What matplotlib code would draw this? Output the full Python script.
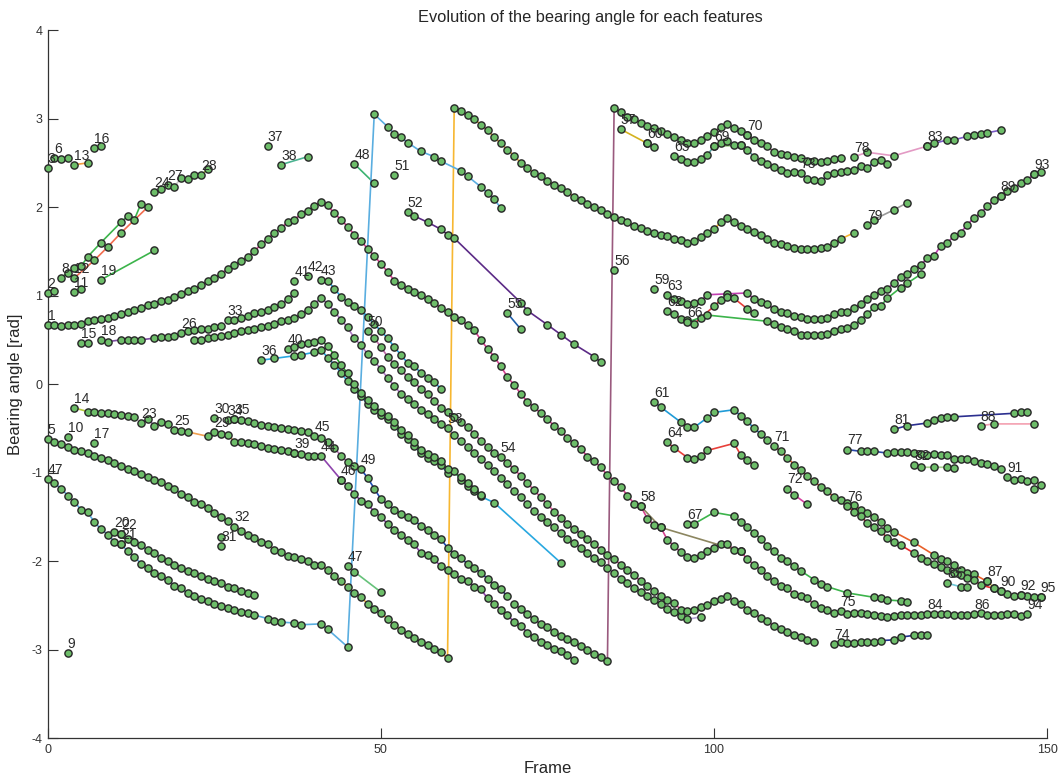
import numpy as np
import matplotlib.pyplot as plt

plt.rcParams['font.family'] = ['Liberation Sans', 'DejaVu Sans']
plt.rcParams['axes.unicode_minus'] = False

N = None

# --- feature tracks: (start frame, bearing angle per frame; None = frame missing) ---
ang_3 = [2.44]
ang_6 = [2.56, 2.54, 2.56]
ang_13 = [2.48, N, 2.50]
ang_16 = [2.67, 2.69]
ang_2 = [1.03, 1.05]
ang_8 = [1.20, 1.26, 1.31, 1.33, 1.44, N, 1.60, N, N, 1.83, 1.90, 1.86, 2.04]
ang_12 = [1.20, N, N, 1.40, N, 1.55, N, 1.71, N, N, N, 2.00]
ang_11 = [1.04, 1.07]
ang_19 = [1.18, N, N, N, N, N, N, N, 1.51]
ang_24 = [2.17, 2.20]
ang_27 = [2.25, 2.23, 2.33, 2.32, 2.36]
ang_28 = [2.36, 2.43]
ang_37 = [2.69]
ang_38 = [2.48, N, N, N, 2.57]
ang_48 = [2.49, N, N, 2.27]
ang_51 = [2.36]

ang_1 = [0.67, 0.67, 0.66, 0.67, 0.67, 0.68, 0.71, 0.72, 0.74, 0.75, 0.77, 0.79, 0.81, 0.84, 0.86, 0.89,
         0.91, 0.94, 0.95, 0.98, 1.02, 1.05, 1.08, 1.12, 1.16, 1.20, 1.25, 1.30, 1.35, 1.39, 1.44, 1.50,
         1.58, 1.64, 1.71, 1.76, 1.83, 1.86, 1.92, 1.96, 2.01, 2.06, 2.02, 1.93, 1.86, 1.78, 1.69, 1.62,
         1.53, 1.45, 1.36, 1.27, 1.17, 1.12, 1.08, 1.04, 1.01, 0.96, 0.92, 0.86, 0.81, 0.76, 0.72, 0.67,
         0.61, 0.50, 0.40, 0.31, 0.20, 0.08, -0.01, -0.11, -0.20, -0.26, -0.33, -0.40, -0.47,
         -0.53, -0.61, -0.67, -0.73, -0.82, -0.87, -0.94, -1.03, -1.09, -1.16, -1.26, -1.35, -1.38, -1.52,
         -1.59, -1.62, -1.76, -1.83, -1.90, -1.95, -1.96, -1.93, -1.89, -1.85, -1.81, -1.81, -1.87, -1.89,
         -1.98, -2.04, -2.10, -2.17, -2.23, -2.28, -2.31, -2.37, -2.40, -2.42, -2.49, -2.53, -2.55, -2.59]
ang_58 = [-1.38, N, N, -1.62] + [N] * 11 + [-1.89]
ang_75 = [-2.57, -2.60, -2.59, -2.59, -2.60, -2.61, -2.62, -2.63, -2.62, -2.61, -2.61, -2.61, -2.61]
ang_84 = [-2.60, -2.60, -2.60, -2.60, -2.61, -2.61, -2.61]
ang_86 = [-2.60, -2.59, -2.61, -2.61, -2.61, -2.60, -2.60, -2.62]
ang_94 = [-2.60]

ang_5 = [-0.62, -0.66, -0.68, -0.71, -0.74, -0.76, -0.78, -0.81, -0.83, -0.86, -0.89, -0.93, -0.96, -0.98,
         -1.02, -1.05, -1.08, -1.11, -1.15, -1.18, -1.24, -1.28, -1.33, -1.36, -1.40, -1.46, -1.50, -1.55]
ang_32 = [-1.61, -1.66, -1.70, -1.74, -1.78, -1.81, -1.87, -1.90, -1.94, -1.95, -1.98, -2.00, -2.04, -2.05,
          -2.10, -2.17, -2.23, -2.29, -2.36, -2.41,
          -2.48, -2.54, -2.59, -2.65, -2.72, -2.78, -2.83, -2.87, -2.91, -2.95, -2.99, -3.03, -3.10,
          3.12, 3.09, 3.04, 3.00, 2.93, 2.87, 2.79, 2.72, 2.65, 2.58, 2.50, 2.44, 2.39, 2.35, 2.30, 2.25,
          2.22, 2.17, 2.12, 2.08, 2.04, 2.00, 1.97, 1.92, 1.89, 1.86, 1.83, 1.79, 1.76, 1.73, 1.71, 1.69,
          1.67, 1.64, 1.63, 1.60, 1.62, 1.66,
          1.71, 1.75, 1.83, 1.88, 1.83, 1.79, 1.75, 1.72, 1.68, 1.64, 1.59, 1.58, 1.56, 1.54, 1.53, 1.53,
          1.53, 1.54, 1.55, 1.59, 1.64, N, 1.71]
ang_10 = [-0.60]
ang_17 = [-0.67]
ang_9 = [-3.04]

ang_47 = [-1.07, -1.12, -1.18, -1.26, -1.33, -1.42, -1.45, -1.56, -1.64,
          -1.70, -1.78, -1.81, -1.89, -1.95, -2.03, -2.08, -2.14, -2.17, -2.21, -2.28, -2.31, -2.36, -2.40,
          -2.43, -2.45, -2.48, -2.51, -2.53, -2.55, -2.58, -2.59, -2.61,
          N, -2.65, -2.68, -2.69, N, -2.70, -2.72, N, N, -2.71, -2.77, N, N, -2.97,
          N, N, N, 3.05, N, 2.91, 2.83, 2.79, 2.73, N, 2.63, N, 2.57, 2.52, N, N, 2.41, 2.35, N, 2.23,
          2.16, 2.09, 1.99]
ang_20 = [-1.67, -1.69, -1.75, -1.79, -1.82, -1.88, -1.91, -1.96, -2.00, -2.04, -2.08, -2.11, -2.14, -2.17,
          -2.20, -2.23, -2.25, -2.29, -2.31, -2.34, -2.36, -2.38]
ang_22 = [-1.69]
ang_21 = [-1.81]
ang_31 = [-1.83]
ang_31b = [-1.73]

ang_15 = [0.46, 0.46]
ang_18 = [0.50, 0.48, N, 0.50, 0.50, 0.50, 0.50, N, 0.52, 0.53, 0.53, 0.54]
ang_26 = [0.58, 0.60, 0.61, 0.62, 0.62, 0.65, 0.66]
ang_33 = [0.72, 0.73, 0.75, 0.77, 0.80, 0.82, 0.84, 0.87, 0.90, 0.96, 1.03]
ang_41 = [1.16]
ang_low = [0.50, 0.50, 0.52, 0.53, 0.54, 0.56, 0.58, 0.60, 0.61, 0.62, 0.65, 0.66, 0.68, 0.71, 0.73, 0.75,
           0.79, 0.84, 0.91, 0.97,
           0.91, 0.82, 0.73, 0.64, 0.52, 0.44, 0.34, 0.26, 0.17, 0.07, -0.02, -0.11, -0.17, -0.23, -0.29,
           -0.34, -0.40, -0.45]
ang_53 = [-0.50, -0.58, -0.64, -0.71, -0.78, -0.85, -0.91, -0.98, -1.06, -1.13, -1.21, -1.28, -1.36, -1.43,
          -1.50, -1.56, -1.62, -1.68,
          -1.75, -1.80, -1.85, -1.91, -1.96, -2.01, -2.08, -2.13, -2.20, -2.25, -2.30, -2.35, -2.40, -2.44,
          -2.48, -2.54, -2.58, -2.62, -2.66, N, -2.63]
ang_50 = [0.60, 0.52, 0.42, 0.31, 0.23, 0.16, 0.08, 0.02, -0.05, -0.11, -0.19, -0.27, -0.32, -0.37, -0.43,
          -0.49, -0.56, -0.64, -0.71, -0.78]
ang_54 = [-0.82, -0.89, -0.96, -1.04, -1.12, -1.20, -1.28, -1.36, -1.44, -1.51,
          -1.58, -1.64, -1.69, -1.75, -1.81, -1.87, -1.93, -1.98, -2.04, -2.10, -2.16, -2.23, -2.28, -2.34,
          -2.39, -2.44, -2.47, -2.55, -2.56, -2.55, -2.52, -2.50, -2.45, -2.43, -2.40, -2.45, -2.49,
          -2.55, -2.59, -2.64, -2.68, -2.73, -2.77, -2.80, -2.84, -2.86, -2.89, -2.91]
ang_42 = [1.22]
ang_43 = [1.18, 1.17, 1.08, 0.99, 0.93, 0.88, 0.84, 0.76, 0.68, 0.60, 0.52, 0.42, 0.33, 0.24, 0.20, 0.13,
          0.07, 0.02, -0.05]
ang_40 = [0.40, 0.42, 0.45, 0.47, 0.48, 0.50, 0.43, 0.33, 0.22, 0.12, 0.00, -0.10, -0.18, -0.25, -0.31,
          -0.36, -0.43, -0.52, -0.58, -0.66, -0.74, -0.79, -0.82, -0.87, -0.96, N, -1.05, -1.12, -1.18, -1.25]
ang_36 = [0.27, N, 0.29, N, N, 0.32, 0.33, N, 0.36, 0.39, 0.30, 0.22, 0.13, 0.03, -0.06, -0.14, -0.22,
          -0.29, -0.35, -0.40, -0.47, -0.56, -0.62, -0.70, -0.78, -0.83, -0.87, -0.92, -1.00, -0.98, -1.08,
          -1.15, -1.21, -1.27, N, -1.34] + [N] * 9 + [-2.02]

ang_14 = [-0.27, N, -0.31, -0.32, -0.33, -0.33, -0.34, -0.35, -0.36, -0.37]
ang_23 = [-0.44, -0.39, -0.47, -0.43, -0.45]
ang_25 = [-0.52, -0.53, -0.54, N, N, -0.59]
ang_29 = [-0.54, -0.56, -0.57, -0.65, -0.66, -0.67, -0.68, -0.70, -0.72, -0.73, -0.75, -0.76, -0.78, -0.79,
          -0.81, -0.81]
ang_30 = [-0.38]
ang_34 = [-0.41, -0.40, -0.41, -0.42, -0.44, -0.46, -0.47, -0.48, -0.50, -0.51, -0.52, -0.53, -0.54]
ang_35 = [-0.40]
ang_39 = [-0.78]
ang_45 = [-0.59, -0.61, -0.65, -0.72, -0.81, -0.88, -0.93]
ang_44 = [-0.81, N, N,
          -1.08, -1.15, -1.24, -1.32, -1.36, -1.44, -1.50, -1.58, -1.65, -1.70, -1.76, -1.81, -1.91, -1.93,
          -1.98, -2.06, -2.10, -2.15, -2.20, -2.23, -2.29, -2.32, -2.42, -2.48, -2.55, -2.61, -2.69, -2.73,
          -2.81, -2.86, -2.91, -2.95, -2.99, -3.02, -3.06, -3.12]
ang_46 = [-1.08]
ang_49 = [-0.96, -1.06, -1.18, -1.30, -1.36, -1.42, -1.47, -1.50, -1.54, -1.60, -1.65, -1.70, -1.75, -1.85,
          -1.92, -1.97, -2.03, -2.08, -2.13, -2.20, -2.27, -2.32, -2.40]
ang_wrap = [-2.49, -2.54, -2.60, -2.66, -2.71, -2.75, -2.80, -2.85, -2.88, -2.92, -2.96, -3.01, -3.05, -3.09,
            -3.13,
            3.12, 3.07, 3.02, 3.00, 2.95, 2.92, 2.90, 2.86, 2.83, 2.79, 2.76, 2.72, 2.72, 2.76,
            2.80, 2.85, 2.91, 2.94, 2.89, 2.86, 2.81, 2.76, 2.72, 2.69, 2.62, 2.60, 2.59, 2.57, 2.55, 2.52,
            2.52, 2.51, 2.52, 2.54, 2.56]
ang_47b = [-2.06, -2.12, N, N, N, -2.35]

ang_52 = [1.94, 1.90, N, 1.83, N, 1.75, 1.69, 1.65] + [N] * 9 + \
         [0.92, 0.83, N, N, 0.67, N, 0.56, N, 0.45, N, N, 0.31, 0.25]
ang_55 = [0.80, N, 0.62]
ang_56 = [1.29]
ang_57 = [2.88, N, N, N, 2.72, 2.68]
ang_60 = [2.72]
ang_65 = [2.58, 2.54, 2.51, 2.51, 2.54, 2.59, 2.69, 2.73, 2.75, 2.70, 2.70, 2.65, 2.57, 2.52, 2.49, 2.45,
          2.42, 2.39, 2.40]
ang_73 = [2.39, 2.32, 2.31, 2.29, 2.36, 2.39, 2.40, 2.41, 2.42, 2.46, 2.44, 2.51, 2.53, 2.49]
ang_69 = [2.69, N, N, N, 2.70]
ang_70 = [2.81]
ang_78 = [2.57, N, 2.62, N, N, N, 2.58, N, N, N, N, 2.69]
ang_83 = [2.69, 2.72, N, 2.76, 2.76, N, 2.80, 2.82, 2.83, 2.84, N, 2.87]
ang_79 = [1.80, 1.86, N, N, 1.97, N, 2.05]

ang_59 = [1.07]
ang_63 = [1.01, 0.96, 0.94, 0.91, 0.92, 0.94, 1.01, N, N, 1.02, N, N,
          1.03, 0.96, 0.93, 0.90, 0.85, 0.82, 0.80, 0.77, 0.76, 0.74, 0.74, 0.74, 0.75, 0.79, 0.81, 0.82,
          0.86, 0.91, 0.96, 1.01, 1.05, 1.08, 1.14, 1.21, 1.25, 1.30,
          1.35, 1.42, 1.45, 1.56, 1.60, 1.67, 1.71, 1.80, 1.88, 1.93, 2.01, 2.08, 2.13, 2.18, 2.22, 2.27,
          2.31, 2.37, 2.40]
ang_89 = [2.13]
ang_93 = [2.37]
ang_62 = [0.83, 0.79, 0.74, 0.73, 0.68, 0.75, N, 0.88, 0.95, 0.99, 0.97, N, 0.85, 0.80]
ang_66 = [0.70, N, N, 0.78] + [N] * 8 + \
         [0.71, 0.68, 0.65, 0.62, 0.60, 0.56, 0.55, 0.56, 0.55, 0.57, 0.60, 0.62, 0.63, 0.67, 0.73, 0.79,
          0.87, 0.88, 0.97, N, 1.09, 1.14, N, 1.24]

ang_61 = [-0.20, -0.26, N, N, -0.43, -0.49, -0.49, N, -0.38, -0.32, N, N, -0.29, -0.36, -0.42, -0.50,
          -0.56, -0.63]
ang_71 = [-0.70, -0.76, -0.83, -0.91, -0.97, -1.04, -1.10, -1.16, -1.21, -1.28, -1.31, -1.34, -1.37, -1.42,
          -1.46, -1.50, -1.56, -1.63, -1.67, N, N, -1.79, N, N, -1.93, -1.98, -2.00, -2.05, -2.10, -2.13,
          -2.15, N, -2.23]
ang_76 = [-1.38, -1.44, -1.49, -1.57, -1.61, -1.66, -1.74, -1.79, -1.82, N, -1.91, -1.96, -2.00, -2.03,
          -2.07, -2.10, -2.13, -2.16, -2.19, -2.21, -2.27, N, -2.31, -2.34, -2.37, -2.40, -2.38, -2.40,
          -2.41, -2.41]
ang_85 = [-2.25, N, -2.29, -2.29]
ang_87 = [-2.23, -2.30]
ang_90 = [-2.34]
ang_92 = [-2.38]
ang_95 = [-2.41]
ang_72 = [-1.18, -1.25, N, -1.36]
ang_64 = [-0.66, -0.72, N, -0.83, -0.85, -0.81, -0.75, N, N, N, -0.67, -0.80, -0.86, -0.92]
ang_67 = [-1.58, -1.58, N, N, -1.45, N, N, -1.49, -1.56, -1.62, -1.68, -1.75, -1.83, -1.89, -1.96, -2.00,
          -2.06, -2.11, N, -2.21, -2.26, -2.29, N, N, -2.36, N, N, N, -2.41, -2.42, -2.44, N, -2.45, -2.46]
ang_74 = [-2.94, -2.92, -2.93, -2.93, -2.92, -2.92, -2.91, -2.90, N, -2.89, -2.86, N, -2.84, -2.84, -2.84]
ang_77 = [-0.74, N, -0.76, -0.76, -0.76, N, -0.78, -0.77, -0.77, -0.77, -0.78, -0.79, -0.80, -0.79, -0.80,
          -0.80, -0.85, -0.85, -0.85, -0.87, -0.89, -0.90, -0.93, -0.96]
ang_91 = [-1.05, -1.08, -1.07, -1.09, -1.08, -1.14]
ang_91b = [-1.18]
ang_82 = [-0.92, -0.94, N, -0.94, N, -0.94, -0.95]
ang_81 = [-0.51, N, -0.47, N, N, -0.44, -0.41, -0.38, -0.37, -0.37] + [N] * 8 + [-0.33, -0.32, -0.31]
ang_88 = [-0.47, N, -0.45, N, N, N, N, N, -0.45]

# (label, first frame, angles, line colour)
tracks = [
    ("3", 0, ang_3, "#7f7f7f"), ("6", 1, ang_6, "#8fbc8f"), ("13", 4, ang_13, "#f39c3d"),
    ("16", 7, ang_16, "#4fa3d9"), ("2", 0, ang_2, "#999999"), ("8", 2, ang_8, "#3cb44b"),
    ("12", 4, ang_12, "#f26d4f"), ("11", 4, ang_11, "#a0a0a0"), ("19", 8, ang_19, "#3cb44b"),
    ("24", 16, ang_24, "#c8c8c8"), ("27", 18, ang_27, "#c8c8c8"), ("28", 23, ang_28, "#a6c83a"),
    ("37", 33, ang_37, "#888888"), ("38", 35, ang_38, "#4cb391"), ("48", 46, ang_48, "#3cb371"),
    ("51", 52, ang_51, "#888888"),
    ("1", 0, ang_1, "#d6428f"), ("58", 89, ang_58, "#8c8660"), ("75", 119, ang_75, "#77cfc8"),
    ("84", 132, ang_84, "#aaaaaa"), ("86", 139, ang_86, "#f2c12e"), ("94", 147, ang_94, "#888888"),
    ("5", 0, ang_5, "#7a9cc6"), ("32", 28, ang_32, "#f7b731"), ("10", 3, ang_10, "#888888"),
    ("17", 7, ang_17, "#888888"), ("9", 3, ang_9, "#888888"),
    ("47", 0, ang_47, "#5aaee0"), ("20", 10, ang_20, "#6cbfd8"), ("22", 11, ang_22, "#888888"),
    ("21", 11, ang_21, "#888888"), ("31", 26, ang_31, "#888888"), ("", 26, ang_31b, "#888888"),
    ("15", 5, ang_15, "#7d4fa0"), ("18", 8, ang_18, "#7d4fa0"), ("26", 20, ang_26, "#999999"),
    ("33", 27, ang_33, "#9467bd"), ("41", 37, ang_41, "#888888"),
    ("", 22, ang_low, "#b07cc6"), ("53", 60, ang_53, "#b7a7d8"), ("50", 48, ang_50, "#c06aa8"),
    ("54", 68, ang_54, "#e0559a"), ("42", 39, ang_42, "#f5a623"), ("43", 41, ang_43, "#29a8e0"),
    ("36", 32, ang_36, "#29a8e0"), ("40", 36, ang_40, "#2ca02c"),
    ("14", 4, ang_14, "#b8cc3a"), ("23", 14, ang_23, "#9b7fb0"), ("25", 19, ang_25, "#f0a050"),
    ("29", 25, ang_29, "#f0a050"), ("30", 25, ang_30, "#888888"), ("34", 27, ang_34, "#888888"),
    ("35", 28, ang_35, "#888888"), ("39", 37, ang_39, "#888888"), ("45", 40, ang_45, "#b06fb0"),
    ("44", 41, ang_44, "#8e44ad"), ("46", 44, ang_46, "#8e44ad"), ("49", 47, ang_49, "#1f4fb4"),
    ("", 70, ang_wrap, "#9a5a7e"), ("47", 45, ang_47b, "#66c27a"),
    ("52", 54, ang_52, "#5b2a86"), ("55", 69, ang_55, "#1f5fa8"), ("56", 85, ang_56, "#888888"),
    ("57", 86, ang_57, "#d4b21f"), ("60", 90, ang_60, "#888888"), ("65", 94, ang_65, "#5aa0a0"),
    ("73", 113, ang_73, "#2940a8"), ("69", 100, ang_69, "#6ab04c"), ("70", 105, ang_70, "#888888"),
    ("78", 121, ang_78, "#e39ac4"), ("83", 132, ang_83, "#7b5bc4"), ("79", 123, ang_79, "#999999"),
    ("59", 91, ang_59, "#888888"), ("63", 93, ang_63, "#c03fb0"), ("89", 143, ang_89, "#888888"),
    ("93", 148, ang_93, "#888888"), ("62", 93, ang_62, "#e8403a"), ("66", 96, ang_66, "#3cb44b"),
    ("61", 91, ang_61, "#1f9bd7"), ("71", 109, ang_71, "#e8602a"), ("76", 120, ang_76, "#e32d2d"),
    ("85", 135, ang_85, "#6fc8d6"), ("87", 141, ang_87, "#d8c84a"), ("90", 143, ang_90, "#888888"),
    ("92", 146, ang_92, "#888888"), ("95", 149, ang_95, "#888888"), ("72", 111, ang_72, "#d63fa0"),
    ("64", 93, ang_64, "#e8403a"), ("67", 96, ang_67, "#3cb44b"), ("74", 118, ang_74, "#1f2f8f"),
    ("77", 120, ang_77, "#2a49a8"), ("91", 144, ang_91, "#b5c14a"), ("", 148, ang_91b, "#888888"),
    ("82", 130, ang_82, "#a8d08d"), ("81", 127, ang_81, "#2b2f8f"), ("88", 140, ang_88, "#f4a0b0"),
]

fig = plt.figure(figsize=(10.61, 7.74), dpi=100)
ax = fig.add_axes([0.045, 0.0465, 0.942, 0.9145])

pts = []
for label, start, vals, col in tracks:
    v = np.array([np.nan if a is None else a for a in vals], dtype=float)
    fr = np.arange(start, start + len(v))
    ok = ~np.isnan(v)
    pts.append((label, fr[ok], v[ok]))
    if ok.sum() > 1:
        ax.plot(fr[ok], v[ok], '-', color=col, lw=1.2, zorder=2)

for label, fr, v in pts:
    ax.plot(fr, v, 'o', ms=5.2, mfc='#6dbd69', mec='#262626', mew=1.0, zorder=3, clip_on=False)

for label, fr, v in pts:
    if label:
        ax.annotate(label, (fr[0], v[0]), xytext=(0, 1.5), textcoords='offset points',
                    ha='left', va='bottom', fontsize=10, color='#2b2b2b', zorder=4)

ax.set_xlim(0, 150)
ax.set_ylim(-4, 4)
ax.set_xticks([0, 50, 100, 150])
ax.set_yticks(range(-4, 5))
ax.spines['top'].set_visible(False)
ax.spines['right'].set_visible(False)
for s in ('left', 'bottom'):
    ax.spines[s].set_color('#333333')
    ax.spines[s].set_linewidth(0.9)
ax.tick_params(direction='in', length=7, width=0.8, colors='#333333', labelsize=9, pad=4)
ax.set_xlabel('Frame', fontsize=12, color='#262626', labelpad=4)
ax.set_ylabel('Bearing angle [rad]', fontsize=12, color='#262626', labelpad=6)
ax.set_title('Evolution of the bearing angle for each features', fontsize=11.8, color='#262626',
             x=0.543, pad=6)

fig.savefig('out.png', dpi=100)
